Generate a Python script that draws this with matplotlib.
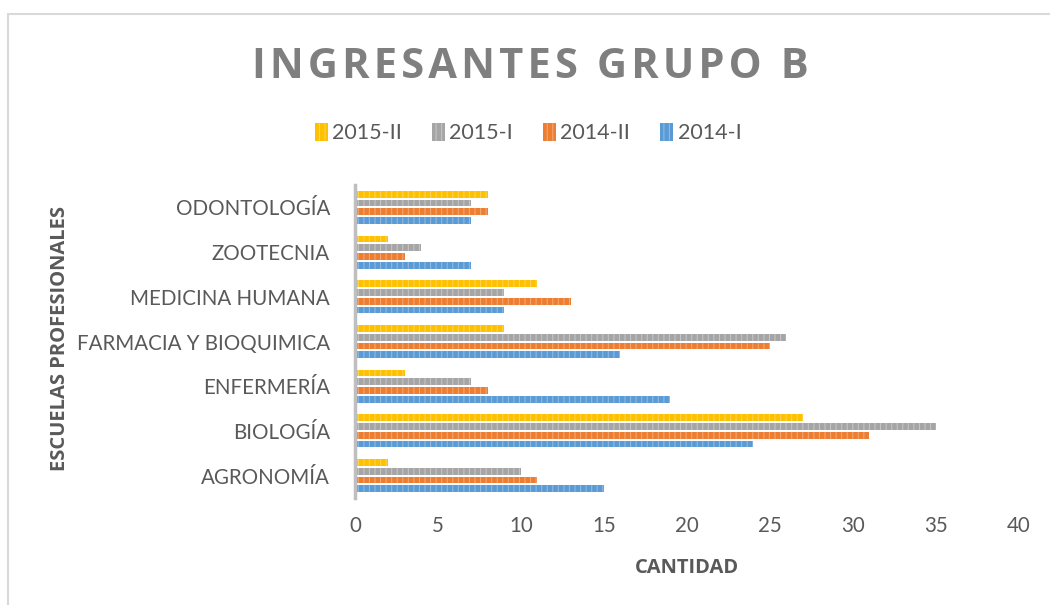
import matplotlib.pyplot as plt
import numpy as np
from matplotlib.patches import Rectangle

# --- data ---
escuelas = ['AGRONOMÍA', 'BIOLOGÍA', 'ENFERMERÍA', 'FARMACIA Y BIOQUIMICA',
            'MEDICINA HUMANA', 'ZOOTECNIA', 'ODONTOLOGÍA']
s2014_I = [15, 24, 19, 16, 9, 7, 7]
s2014_II = [11, 31, 8, 25, 13, 3, 8]
s2015_I = [10, 35, 7, 26, 9, 4, 7]
s2015_II = [2, 27, 3, 9, 11, 2, 8]

# label, values, colour, lighter hatch colour
series = [('2014-I', s2014_I, '#5B9BD5', '#8DB9E3'),
          ('2014-II', s2014_II, '#ED7D31', '#F3A572'),
          ('2015-I', s2015_I, '#A5A5A5', '#C4C4C4'),
          ('2015-II', s2015_II, '#FFC000', '#FFD44D')]

plt.rcParams['font.family'] = ['Lato', 'DejaVu Sans']
plt.rcParams['hatch.linewidth'] = 0.8
txt_clr = '#595959'
bold_font = ['Open Sans', 'DejaVu Sans']

fig = plt.figure(figsize=(10.5, 6.05), dpi=100)
ax = fig.add_axes([0.338, 0.177, 0.632, 0.517])

y = np.arange(len(escuelas))
pitch = 0.195
hgt = 0.15
handles = []
for i, (lbl, vals, clr, hclr) in enumerate(series):
    off = (i - 1.5) * pitch
    b = ax.barh(y + off, vals, height=hgt, color=clr, label=lbl,
                hatch='|||', edgecolor=hclr, linewidth=0)
    handles.append(b)

ax.set_xlim(0, 40)
ax.set_ylim(-0.5, len(escuelas) - 0.5)
ax.set_xticks(range(0, 41, 5))
ax.set_yticks(y)
ax.set_yticklabels(escuelas)
ax.tick_params(axis='both', length=0, labelsize=14.8, colors=txt_clr)
ax.tick_params(axis='y', pad=18)
ax.tick_params(axis='x', pad=13)
for s in ['top', 'right', 'bottom']:
    ax.spines[s].set_visible(False)
ax.spines['left'].set_color('#bfbfbf')
ax.spines['left'].set_linewidth(2.5)

ax.set_xlabel('CANTIDAD', fontsize=14.5, fontweight='bold', color=txt_clr,
              labelpad=16, family=bold_font)
fig.text(0.057, 0.44, 'ESCUELAS PROFESIONALES', rotation=90, fontsize=14.5,
         fontweight='bold', color=txt_clr, ha='center', va='center',
         family=bold_font)

title = '\u200a'.join('INGRESANTES GRUPO B')
fig.text(0.505, 0.889, title, fontsize=30,
         fontweight='bold', color='#7f7f7f', ha='center', va='center',
         family=bold_font)

leg = fig.legend(handles[::-1], [s[0] for s in series][::-1], loc='center',
                 bbox_to_anchor=(0.503, 0.78), ncol=4, frameon=False,
                 fontsize=15.5, handlelength=0.6, handleheight=0.9,
                 handletextpad=0.2, columnspacing=1.4)
for t in leg.get_texts():
    t.set_color(txt_clr)

fig.patches.append(Rectangle((8 / 1050, -0.1), 1.2, 1 - 14 / 605 + 0.1,
                             transform=fig.transFigure, fill=False,
                             edgecolor='#d9d9d9', linewidth=1.5))

fig.savefig('out.png', dpi=100)
